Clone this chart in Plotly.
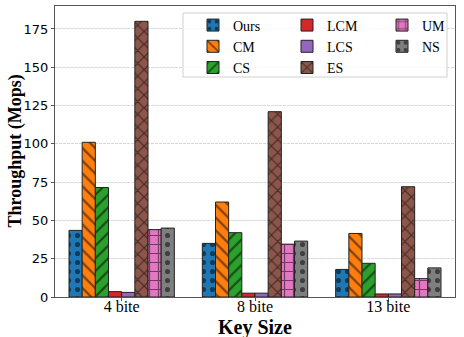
import plotly.graph_objects as go

# ── Data ────────────────────────────────────────────────────
key_sizes = ['4 bite', '8 bite', '13 bite']

ours = [43.5, 35, 18]
cm   = [101, 62, 41.5]
cs   = [71.5, 42, 22]
lcm  = [3.5, 2.5, 2]
lcs  = [3, 2.5, 2]
es   = [180, 121, 72]
um   = [44, 34.5, 12]
ns   = [45, 36.5, 19]

# ── Style ───────────────────────────────────────────────────
SERIES = [
    # name, values, color, hatch, legend
    ('Ours', ours, '#1f77b4', '.',  'legend'),
    ('CM',   cm,   '#ff7f0e', '\\', 'legend'),
    ('CS',   cs,   '#2ca02c', '/',  'legend'),
    ('LCM',  lcm,  '#d62728', '',   'legend2'),
    ('LCS',  lcs,  '#9467bd', '',   'legend2'),
    ('ES',   es,   '#8c564b', 'x',  'legend2'),
    ('UM',   um,   '#e377c2', '+',  'legend3'),
    ('NS',   ns,   '#7f7f7f', '.',  'legend3'),
]

SERIF = 'Liberation Serif, Times New Roman, serif'
SANS = 'DejaVu Sans, sans-serif'

fig = go.Figure()

for name, vals, color, hatch, leg in SERIES:
    fig.add_trace(go.Bar(
        name=name,
        x=key_sizes,
        y=vals,
        legend=leg,
        marker=dict(
            color=color,
            line=dict(color='#222', width=1),
            pattern=dict(shape=hatch, fillmode='overlay',
                         fgcolor='black', size=9, solidity=0.25),
        ),
    ))

legend_style = dict(
    font=dict(family=SERIF, size=14, color='black'),
    bgcolor='rgba(0,0,0,0)',
    yanchor='top', y=0.988,
    xanchor='left',
    tracegroupgap=0,
    itemwidth=30,
)

# legend frame
fig.add_shape(
    type='rect', xref='paper', yref='paper',
    x0=0.32, x1=0.98, y0=0.756, y1=0.976,
    line=dict(color='#d0d0d0', width=1),
    fillcolor='rgba(255,255,255,0.8)',
    layer='above',
)

# axis titles placed by hand
fig.add_annotation(
    text='<b>Key Size</b>', xref='paper', yref='paper',
    x=0.5, y=0, yanchor='middle', yshift=-30, showarrow=False,
    font=dict(family=SERIF, size=20, color='black'),
)
fig.add_annotation(
    text='<b>Throughput (Mops)</b>', xref='paper', yref='paper',
    x=0, y=0.5, xanchor='center', xshift=-40, textangle=-90,
    showarrow=False,
    font=dict(family=SERIF, size=18, color='black'),
)

fig.update_layout(
    width=464, height=337,
    margin=dict(l=55, r=9, t=6, b=40),
    barmode='group',
    bargap=0.21,
    bargroupgap=0,
    plot_bgcolor='white',
    paper_bgcolor='white',
    legend=dict(x=0.345, **legend_style),
    legend2=dict(x=0.58, **legend_style),
    legend3=dict(x=0.8175, **legend_style),
    xaxis=dict(
        tickfont=dict(family=SERIF, size=16, color='black'),
        ticks='outside', ticklen=3, tickcolor='#555',
        ticklabelstandoff=-8,
        showline=True, linecolor='#555', mirror=True,
        automargin=False,
    ),
    yaxis=dict(
        tickfont=dict(family=SANS, size=13, color='black'),
        range=[0, 190],
        tickvals=[0, 25, 50, 75, 100, 125, 150, 175],
        ticks='outside', ticklen=3, tickcolor='#555',
        showline=True, linecolor='#555', mirror=True,
        showgrid=True, gridcolor='#d8d8d8', griddash='3px,1px',
        zeroline=False,
        automargin=False,
    ),
)

fig.write_html("out.html",
               config={'displayModeBar': False},
               post_script="document.body.style.margin='0';")
